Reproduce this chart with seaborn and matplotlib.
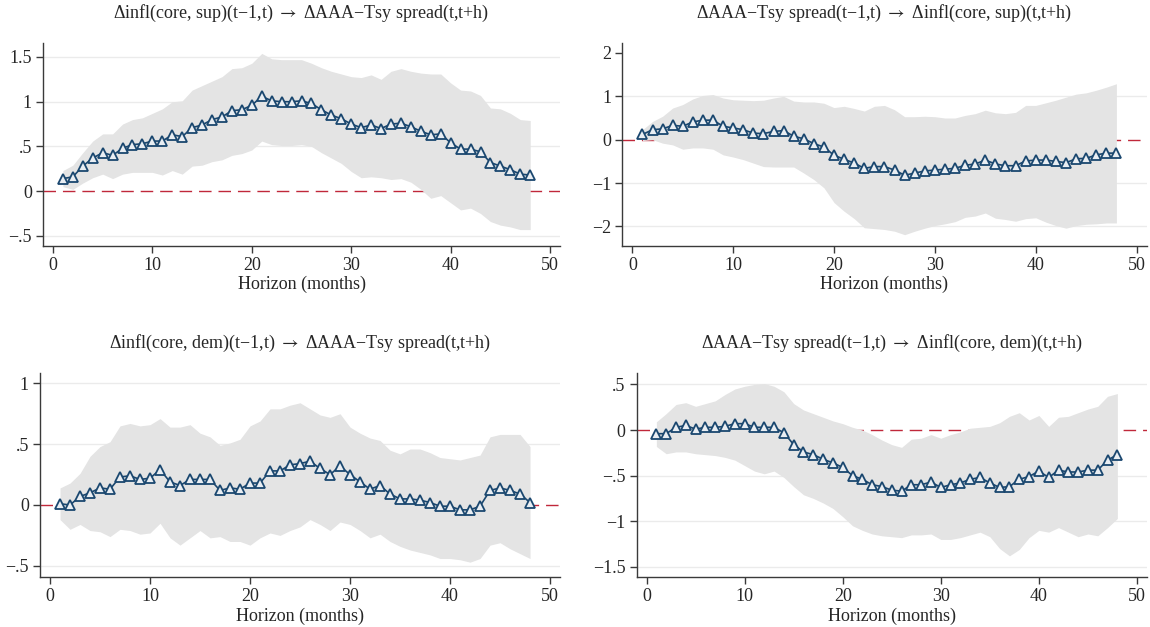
import numpy as np
import pandas as pd
import matplotlib
matplotlib.use("Agg")
import matplotlib.pyplot as plt
import seaborn as sns

# ---------------- data ----------------
horizon = list(range(1, 49))

titles = [
    "\u0394infl(core, sup)(t\u22121,t) $\\rightarrow$ \u0394AAA\u2212Tsy spread(t,t+h)",
    "\u0394AAA\u2212Tsy spread(t\u22121,t) $\\rightarrow$ \u0394infl(core, sup)(t,t+h)",
    "\u0394infl(core, dem)(t\u22121,t) $\\rightarrow$ \u0394AAA\u2212Tsy spread(t,t+h)",
    "\u0394AAA\u2212Tsy spread(t\u22121,t) $\\rightarrow$ \u0394infl(core, dem)(t,t+h)",
]
xlabel = "Horizon (months)"
xticks = [0, 10, 20, 30, 40, 50]

# Panel 1: infl(core, sup) -> AAA-Tsy spread
p1_irf = [0.14, 0.16, 0.28, 0.37, 0.43, 0.40, 0.48, 0.52, 0.53, 0.56, 0.56, 0.63,
          0.61, 0.71, 0.74, 0.80, 0.83, 0.90, 0.91, 0.96, 1.06, 1.01, 1.00, 1.00,
          1.01, 0.98, 0.91, 0.85, 0.81, 0.75, 0.71, 0.74, 0.70, 0.75, 0.76, 0.72,
          0.67, 0.63, 0.64, 0.54, 0.47, 0.47, 0.44, 0.32, 0.28, 0.24, 0.19, 0.18]
p1_hi = [0.23, 0.29, 0.43, 0.56, 0.64, 0.64, 0.75, 0.80, 0.82, 0.87, 0.92, 1.00,
         1.01, 1.13, 1.18, 1.23, 1.28, 1.37, 1.38, 1.43, 1.54, 1.48, 1.47, 1.47,
         1.47, 1.43, 1.38, 1.34, 1.31, 1.28, 1.27, 1.30, 1.25, 1.34, 1.37, 1.34,
         1.32, 1.31, 1.31, 1.21, 1.13, 1.12, 1.07, 0.93, 0.92, 0.87, 0.80, 0.79]
p1_lo = [0.05, 0.02, 0.09, 0.15, 0.19, 0.14, 0.19, 0.21, 0.21, 0.21, 0.18, 0.23,
         0.19, 0.28, 0.29, 0.33, 0.35, 0.40, 0.42, 0.46, 0.56, 0.52, 0.51, 0.51,
         0.52, 0.50, 0.43, 0.37, 0.31, 0.22, 0.15, 0.16, 0.15, 0.13, 0.14, 0.10,
         0.02, -0.08, -0.05, -0.13, -0.21, -0.19, -0.25, -0.34, -0.38, -0.40, -0.43, -0.43]
p1_yticks = [-0.5, 0, 0.5, 1, 1.5]
p1_yticklabels = ["\u2212.5", "0", ".5", "1", "1.5"]

# Panel 2: AAA-Tsy spread -> infl(core, sup)
p2_irf = [0.12, 0.23, 0.25, 0.33, 0.31, 0.41, 0.45, 0.45, 0.31, 0.27, 0.23, 0.15,
          0.14, 0.19, 0.21, 0.08, 0.02, -0.09, -0.17, -0.36, -0.45, -0.54, -0.66, -0.62,
          -0.62, -0.70, -0.82, -0.77, -0.72, -0.70, -0.68, -0.66, -0.59, -0.56, -0.47, -0.56,
          -0.60, -0.60, -0.49, -0.47, -0.47, -0.50, -0.53, -0.44, -0.43, -0.35, -0.31, -0.31]
p2_hi = [0.23, 0.42, 0.54, 0.73, 0.81, 0.94, 1.02, 1.04, 0.96, 0.92, 0.91, 0.90,
         0.91, 0.96, 1.00, 0.89, 0.87, 0.87, 0.84, 0.74, 0.77, 0.72, 0.66, 0.77,
         0.79, 0.69, 0.53, 0.53, 0.54, 0.53, 0.50, 0.50, 0.56, 0.60, 0.68, 0.62,
         0.60, 0.63, 0.79, 0.79, 0.85, 0.91, 0.98, 1.05, 1.08, 1.14, 1.21, 1.29]
p2_lo = [-0.02, 0.00, -0.08, -0.12, -0.22, -0.19, -0.19, -0.22, -0.35, -0.40, -0.46, -0.54,
         -0.62, -0.63, -0.63, -0.63, -0.77, -0.92, -1.11, -1.45, -1.65, -1.82, -2.03, -2.05,
         -2.07, -2.11, -2.19, -2.11, -2.04, -1.98, -1.94, -1.89, -1.79, -1.76, -1.69, -1.81,
         -1.84, -1.88, -1.82, -1.80, -1.90, -1.98, -2.04, -1.98, -1.95, -1.94, -1.92, -1.92]
p2_yticks = [-2, -1, 0, 1, 2]
p2_yticklabels = ["\u22122", "\u22121", "0", "1", "2"]

# Panel 3: infl(core, dem) -> AAA-Tsy spread
p3_irf = [0.01, 0.00, 0.07, 0.10, 0.14, 0.13, 0.23, 0.24, 0.21, 0.22, 0.29, 0.19,
          0.16, 0.21, 0.21, 0.21, 0.12, 0.14, 0.13, 0.18, 0.18, 0.28, 0.28, 0.33,
          0.34, 0.36, 0.30, 0.25, 0.32, 0.25, 0.19, 0.13, 0.16, 0.09, 0.05, 0.05,
          0.04, 0.02, -0.01, -0.01, -0.04, -0.04, -0.01, 0.12, 0.14, 0.12, 0.09, 0.02]
p3_hi = [0.14, 0.18, 0.26, 0.40, 0.48, 0.52, 0.65, 0.67, 0.65, 0.66, 0.71, 0.64,
         0.64, 0.66, 0.59, 0.56, 0.49, 0.51, 0.54, 0.65, 0.69, 0.79, 0.79, 0.82,
         0.84, 0.79, 0.74, 0.72, 0.75, 0.64, 0.59, 0.55, 0.53, 0.45, 0.42, 0.46,
         0.46, 0.43, 0.39, 0.38, 0.37, 0.39, 0.41, 0.56, 0.58, 0.58, 0.58, 0.48]
p3_lo = [-0.12, -0.20, -0.16, -0.21, -0.22, -0.26, -0.20, -0.21, -0.24, -0.23, -0.15, -0.27,
         -0.33, -0.27, -0.21, -0.27, -0.26, -0.30, -0.30, -0.33, -0.27, -0.23, -0.25, -0.21,
         -0.18, -0.12, -0.16, -0.21, -0.14, -0.16, -0.21, -0.27, -0.24, -0.30, -0.34, -0.37,
         -0.39, -0.41, -0.44, -0.44, -0.45, -0.47, -0.44, -0.33, -0.31, -0.36, -0.40, -0.44]
p3_yticks = [-0.5, 0, 0.5, 1]
p3_yticklabels = ["\u2212.5", "0", ".5", "1"]

# Panel 4: AAA-Tsy spread -> infl(core, dem)
p4_irf = [-0.04, -0.04, 0.03, 0.05, 0.01, 0.03, 0.03, 0.04, 0.07, 0.07, 0.03, 0.03,
          0.03, -0.03, -0.16, -0.24, -0.27, -0.32, -0.36, -0.41, -0.50, -0.54, -0.60, -0.62,
          -0.66, -0.67, -0.60, -0.60, -0.57, -0.63, -0.60, -0.58, -0.54, -0.52, -0.58, -0.63,
          -0.62, -0.54, -0.51, -0.45, -0.52, -0.44, -0.46, -0.46, -0.44, -0.44, -0.33, -0.27]
p4_hi = [0.09, 0.18, 0.28, 0.30, 0.26, 0.29, 0.32, 0.39, 0.45, 0.48, 0.50, 0.51,
         0.48, 0.42, 0.29, 0.22, 0.18, 0.14, 0.10, 0.07, 0.03, 0.00, -0.05, -0.11,
         -0.16, -0.19, -0.10, -0.09, -0.05, -0.09, -0.05, -0.02, 0.02, 0.03, 0.04, 0.08,
         0.15, 0.19, 0.11, 0.16, 0.04, 0.14, 0.15, 0.19, 0.23, 0.26, 0.37, 0.40]
p4_lo = [-0.18, -0.26, -0.24, -0.24, -0.26, -0.27, -0.28, -0.30, -0.33, -0.39, -0.45, -0.48,
         -0.45, -0.52, -0.62, -0.71, -0.75, -0.80, -0.86, -0.95, -1.05, -1.10, -1.14, -1.16,
         -1.17, -1.18, -1.15, -1.15, -1.14, -1.20, -1.20, -1.18, -1.15, -1.12, -1.17, -1.30,
         -1.38, -1.31, -1.18, -1.10, -1.12, -1.07, -1.12, -1.17, -1.14, -1.16, -1.07, -0.97]
p4_yticks = [-1.5, -1, -0.5, 0, 0.5]
p4_yticklabels = ["\u22121.5", "\u22121", "\u2212.5", "0", ".5"]

panels = [
    (p1_irf, p1_lo, p1_hi, p1_yticks, p1_yticklabels),
    (p2_irf, p2_lo, p2_hi, p2_yticks, p2_yticklabels),
    (p3_irf, p3_lo, p3_hi, p3_yticks, p3_yticklabels),
    (p4_irf, p4_lo, p4_hi, p4_yticks, p4_yticklabels),
]

# ---------------- layout / style ----------------
ylims = [(-0.613, 1.657), (-2.45, 2.23), (-0.592, 1.082), (-1.612, 0.622)]
xlim = (-1.0, 51.0)
positions = [
    [0.0374, 0.6077, 0.4496, 0.3238],
    [0.5411, 0.6077, 0.4560, 0.3238],
    [0.0348, 0.0797, 0.4522, 0.3249],
    [0.5537, 0.0797, 0.4435, 0.3249],
]
navy = "#1a476f"
band_col = "#e4e4e4"
red = "#c0283a"
grid_col = "#ebebeb"
axis_col = "#3a3a3a"

sns.set_theme(style="white")
serif = ["Liberation Serif", "DejaVu Serif"]
plt.rcParams["font.family"] = serif
plt.rcParams["mathtext.fontset"] = "stix"
plt.rcParams["axes.unicode_minus"] = True

fig = plt.figure(figsize=(11.5, 6.27), dpi=100)
fig.patch.set_facecolor("white")

for i, (irf, lo, hi, yt, ytl) in enumerate(panels):
    ax = fig.add_axes(positions[i])
    ax.set_facecolor("white")
    df = pd.DataFrame({"h": horizon, "irf": irf, "lo": lo, "hi": hi})
    for y in yt:
        if y == 0:
            continue
        if i == 1 and y == 2:
            continue
        ax.axhline(y, color=grid_col, lw=1.0, zorder=0)
    ax.axhline(0, color=red, lw=1.0, dashes=(9, 5), zorder=1)
    ax.fill_between(df["h"], df["lo"], df["hi"], color=band_col, lw=0, zorder=2)
    sns.lineplot(data=df, x="h", y="irf", ax=ax, color=navy, lw=1.2,
                 marker="^", markersize=7.5, markerfacecolor="#e9eef3",
                 markeredgecolor=navy, markeredgewidth=1.3, zorder=3)
    ax.set_xlim(*xlim)
    ax.set_ylim(*ylims[i])
    ax.set_xticks(xticks)
    ax.set_xticklabels([str(v) for v in xticks])
    ax.set_yticks(yt)
    ax.set_yticklabels(ytl)
    ax.tick_params(axis="both", which="major", direction="out", length=5,
                   width=1, color=axis_col, labelsize=13, pad=3,
                   bottom=True, left=True)
    for s in ["top", "right"]:
        ax.spines[s].set_visible(False)
    for s in ["left", "bottom"]:
        ax.spines[s].set_color(axis_col)
        ax.spines[s].set_linewidth(1.0)
    ax.grid(False)
    ax.set_xlabel(xlabel, fontsize=13, labelpad=1.5)
    ax.set_ylabel("")
    ax.set_title(titles[i], fontsize=13, pad=18)

fig.savefig("out.png", dpi=100, facecolor="white")
